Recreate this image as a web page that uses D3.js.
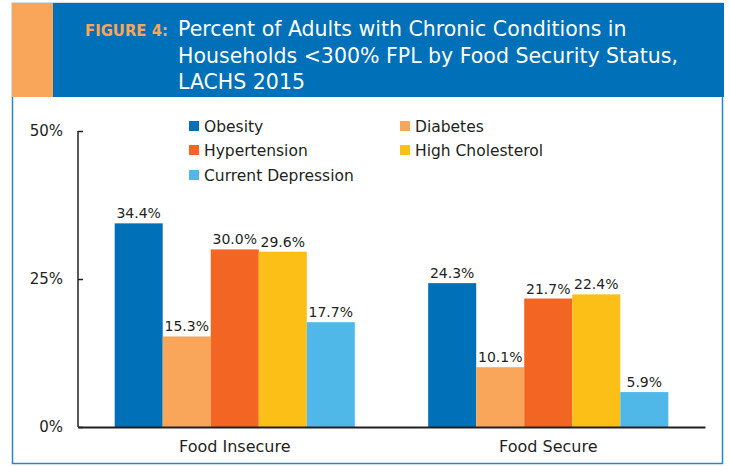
<!DOCTYPE html>
<html>
<head>
<meta charset="utf-8">
<script src="https://cdn.jsdelivr.net/npm/d3@7"></script>
<style>
  body { margin: 0; background: #fff; }
  svg text { font-family: "DejaVu Sans", "Lucida Sans", sans-serif; }
</style>
</head>
<body>
<div id="chart"></div>
<script>
// Chart data
const groups = ['Food Insecure', 'Food Secure'];
const conditions = ['Obesity', 'Diabetes', 'Hypertension', 'High Cholesterol', 'Current Depression'];
const colors = ['#0070b8', '#f9a55a', '#f26522', '#fcbf17', '#4fb8e8'];
const foodInsecure = [34.4, 15.3, 30.0, 29.6, 17.7];
const foodSecure = [24.3, 10.1, 21.7, 22.4, 5.9];
const yTicks = [0, 25, 50];

const values = [foodInsecure, foodSecure];

const W = 730, H = 466;
const svg = d3.select('#chart').append('svg')
    .attr('width', W)
    .attr('height', H);

// Frame and header
svg.append('rect')
    .attr('x', 12.5).attr('y', 3.5)
    .attr('width', 710).attr('height', 460)
    .attr('fill', '#fff')
    .attr('stroke', '#2a86c8')
    .attr('stroke-width', 1.5);

svg.append('rect')
    .attr('x', 12).attr('y', 3)
    .attr('width', 712).attr('height', 94)
    .attr('fill', '#0070b8');

svg.append('rect')
    .attr('x', 12).attr('y', 3)
    .attr('width', 41).attr('height', 94)
    .attr('fill', '#f9a65a');

svg.append('text')
    .attr('x', 85).attr('y', 36)
    .attr('fill', '#f9a65a')
    .style('font-family', '"DejaVu Sans Condensed", sans-serif')
    .style('font-size', '16.5px')
    .style('font-weight', 'bold')
    .text('FIGURE 4:');

const titleLines = [
    'Percent of Adults with Chronic Conditions in',
    'Households <300% FPL by Food Security Status,',
    'LACHS 2015'
];
svg.append('g').selectAll('text')
    .data(titleLines)
    .enter()
    .append('text')
    .attr('x', 178)
    .attr('y', (d, i) => 36 + i * 26.5)
    .attr('fill', '#fff')
    .style('font-size', '20.5px')
    .text(d => d);

// Plot area
const margin = {left: 78, right: 25, top: 131, bottom: 39};
const plotW = W - margin.left - margin.right;
const plotH = H - margin.top - margin.bottom;

const g = svg.append('g')
    .attr('transform', `translate(${margin.left},${margin.top})`);

const x0 = d3.scaleBand()
    .domain(groups)
    .range([0, plotW])
    .paddingInner(0.234)
    .paddingOuter(0.117);

const x1 = d3.scaleBand()
    .domain(conditions)
    .range([0, x0.bandwidth()]);

const y = d3.scaleLinear()
    .domain([0, 50])
    .range([plotH, 0]);

// Bars
const groupG = g.selectAll('.group')
    .data(groups)
    .enter()
    .append('g')
    .attr('class', 'group')
    .attr('transform', d => `translate(${x0(d)},0)`);

groupG.selectAll('rect')
    .data((d, i) => values[i].map((v, j) => ({cond: conditions[j], value: v, color: colors[j]})))
    .enter()
    .append('rect')
    .attr('x', d => x1(d.cond))
    .attr('y', d => y(d.value))
    .attr('width', x1.bandwidth())
    .attr('height', d => plotH - y(d.value))
    .attr('fill', d => d.color);

groupG.selectAll('.val')
    .data((d, i) => values[i].map((v, j) => ({cond: conditions[j], value: v})))
    .enter()
    .append('text')
    .attr('class', 'val')
    .attr('x', d => x1(d.cond) + x1.bandwidth() / 2)
    .attr('y', d => y(d.value) - 5)
    .attr('text-anchor', 'middle')
    .attr('fill', '#231f20')
    .style('font-size', '14px')
    .text(d => d.value.toFixed(1) + '%');

// Y axis
const yAxis = g.append('g')
    .call(d3.axisRight(y).tickValues(yTicks).tickSize(5).tickFormat(''));
yAxis.select('.domain').attr('stroke', '#231f20').attr('stroke-width', 1.5)
    .attr('d', `M0,0V${plotH}`);
yAxis.selectAll('.tick line').attr('stroke', '#231f20').attr('stroke-width', 1.5);

g.selectAll('.ylab')
    .data(yTicks)
    .enter()
    .append('text')
    .attr('class', 'ylab')
    .attr('x', -15)
    .attr('y', d => y(d))
    .attr('dy', '0.36em')
    .attr('text-anchor', 'end')
    .attr('fill', '#231f20')
    .style('font-size', '15px')
    .text(d => d + '%');

// X axis
const xAxis = g.append('g')
    .attr('transform', `translate(0,${plotH})`)
    .call(d3.axisBottom(x0).tickSize(0).tickPadding(14));
xAxis.select('.domain').attr('stroke', '#231f20').attr('stroke-width', 2);
xAxis.selectAll('text')
    .attr('fill', '#231f20')
    .style('font-family', '"DejaVu Sans", sans-serif')
    .style('font-size', '16px');

// Legend
const legendX = [189, 400];
const legendY = [126, 150, 175];
const legend = svg.append('g').selectAll('g')
    .data(conditions)
    .enter()
    .append('g')
    .attr('transform', (d, i) => `translate(${legendX[i % 2]},${legendY[Math.floor(i / 2)]})`);

legend.append('rect')
    .attr('x', 0).attr('y', -5)
    .attr('width', 10).attr('height', 10)
    .attr('fill', (d, i) => colors[i]);

legend.append('text')
    .attr('x', 15)
    .attr('dy', '0.36em')
    .attr('fill', '#231f20')
    .style('font-size', '15.5px')
    .text(d => d);
</script>
</body>
</html>
